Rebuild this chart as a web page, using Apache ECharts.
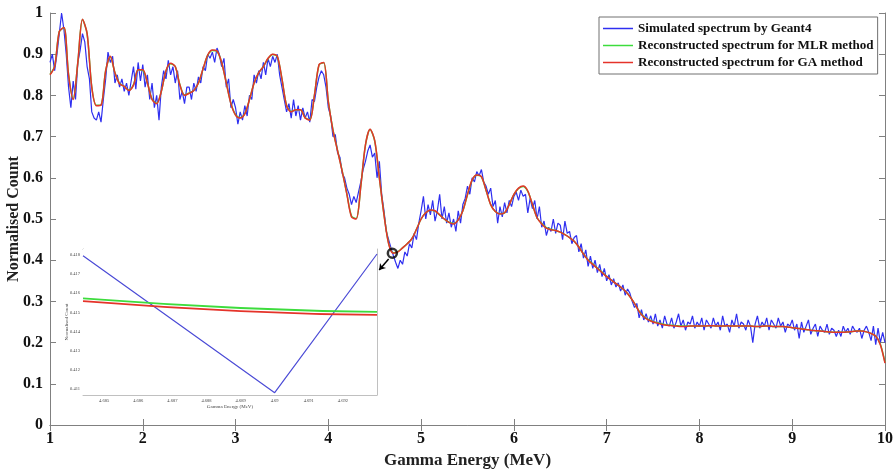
<!DOCTYPE html>
<html>
<head>
<meta charset="utf-8">
<title>Gamma spectrum reconstruction</title>
<script src="https://cdn.jsdelivr.net/npm/echarts@6/dist/echarts.min.js"></script>
<style>
  html, body { margin: 0; padding: 0; background: #fff; }
  #chart { width: 895px; height: 470px; }
</style>
</head>
<body>
<div id="chart"></div>
<script>
// simulated spectrum, sampled every 0.025 MeV from 1 MeV
const simStart = 1
const simStep = 0.025
const simCounts = [
  .880, .900, .860, .900, .950, 1.000, .960, .900, .820, .770, .835, .790, .880, .910, .950, .930, .870, .840, .760, .745,
  .740, .760, .735, .790, .840, .905, .880, .895, .830, .850, .820, .840, .810, .830, .800, .835, .870, .815, .880, .835,
  .875, .820, .850, .790, .830, .770, .800, .740, .820, .860, .840, .885, .850, .870, .830, .860, .790, .810, .780, .820,
  .820, .790, .830, .810, .845, .830, .870, .860, .900, .890, .905, .880, .915, .900, .870, .890, .820, .840, .770, .790,
  .770, .730, .760, .740, .775, .750, .800, .790, .850, .830, .860, .840, .880, .850, .890, .870, .895, .880, .900, .850,
  .820, .790, .760, .780, .745, .790, .750, .775, .740, .770, .745, .760, .735, .790, .785, .820, .845, .860, .850, .820,
  .770, .750, .700, .705, .660, .650, .610, .600, .575, .560, .535, .555, .540, .565, .590, .620, .640, .665, .680, .650,
  .660, .600, .640, .560, .520, .470, .450, .430, .412, .395, .380, .400, .390, .420, .410, .440, .430, .465, .450, .490,
  .520, .555, .500, .535, .510, .545, .495, .520, .560, .500, .530, .490, .515, .480, .500, .470, .520, .490, .535, .550,
  .580, .560, .600, .590, .615, .605, .620, .590, .580, .560, .575, .530, .545, .490, .530, .505, .540, .515, .545, .530,
  .555, .565, .545, .570, .555, .560, .515, .550, .525, .545, .500, .530, .480, .495, .460, .480, .470, .500, .465, .490,
  .485, .450, .495, .465, .470, .440, .455, .460, .420, .440, .405, .425, .385, .410, .380, .400, .370, .390, .360, .380,
  .350, .365, .340, .355, .335, .345, .325, .340, .315, .330, .320, .300, .285, .295, .260, .280, .255, .270, .250, .265,
  .245, .270, .240, .255, .235, .265, .245, .240, .260, .235, .250, .270, .240, .255, .230, .250, .245, .265, .235, .250,
  .240, .260, .230, .255, .245, .235, .260, .240, .250, .230, .265, .240, .245, .225, .255, .240, .270, .235, .250, .245,
  .230, .255, .240, .200, .245, .265, .235, .250, .240, .260, .230, .255, .245, .235, .260, .240, .250, .225, .245, .240,
  .255, .230, .245, .210, .250, .225, .240, .255, .220, .235, .245, .215, .240, .230, .225, .245, .220, .235, .230, .215,
  .230, .215, .240, .225, .235, .220, .240, .230, .225, .235, .210, .230, .240, .225, .205, .240, .195, .235, .200, .225,
  .200
]

// reconstructed spectra, sampled every 0.05 MeV from 1 MeV
const fitStart = 1
const fitStep = 0.05
const gaFit = [
  .850, .870, .955, .965, .850, .790, .880, .985, .950, .820, .775, .776, .860, .895, .855, .828, .822, .812, .825, .862,
  .862, .830, .790, .780, .810, .860, .878, .870, .825, .800, .805, .812, .830, .865, .898, .910, .908, .880, .830, .780,
  .752, .745, .755, .790, .830, .855, .870, .890, .900, .895, .840, .775, .760, .765, .765, .745, .740, .800, .875, .880,
  .785, .715, .665, .615, .560, .505, .500, .580, .680, .718, .690, .600, .510, .440, .417, .420, .430, .440, .452, .475,
  .500, .515, .522, .520, .510, .500, .492, .488, .498, .520, .560, .595, .607, .603, .570, .535, .518, .512, .515, .535,
  .560, .575, .580, .568, .535, .503, .488, .478, .474, .472, .468, .462, .455, .446, .432, .415, .400, .390, .380, .370,
  .360, .352, .343, .335, .325, .312, .295, .275, .262, .255, .250, .247, .244, .242, .241, .240, .239, .239, .240, .240,
  .240, .240, .241, .241, .240, .240, .241, .240, .240, .240, .240, .240, .239, .239, .240, .240, .239, .239, .239, .238,
  .236, .235, .233, .232, .230, .229, .228, .227, .226, .225, .225, .225, .226, .227, .228, .228, .226, .222, .216, .195,
  .150
]
const mlrFit = [
  .851, .871, .955, .964, .851, .791, .880, .984, .950, .821, .776, .777, .860, .894, .855, .829, .822, .813, .826, .862,
  .861, .830, .791, .781, .810, .859, .877, .870, .826, .801, .806, .812, .830, .864, .897, .909, .907, .880, .831, .781,
  .753, .746, .756, .790, .830, .855, .870, .889, .899, .894, .840, .776, .761, .765, .765, .746, .741, .800, .874, .879,
  .785, .716, .666, .616, .561, .507, .501, .580, .679, .717, .689, .600, .511, .441, .418, .421, .430, .440, .452, .475,
  .500, .515, .521, .519, .510, .500, .492, .489, .498, .520, .559, .594, .606, .602, .570, .535, .518, .513, .515, .535,
  .559, .574, .579, .567, .535, .503, .489, .479, .475, .472, .468, .462, .455, .446, .432, .415, .401, .391, .381, .371,
  .361, .352, .343, .335, .325, .312, .295, .276, .263, .256, .251, .248, .245, .243, .242, .241, .240, .240, .240, .240,
  .240, .240, .241, .241, .240, .240, .241, .240, .240, .240, .240, .240, .239, .239, .240, .240, .239, .239, .239, .238,
  .236, .235, .233, .232, .230, .229, .228, .227, .226, .225, .225, .225, .226, .227, .228, .228, .226, .222, .216, .196,
  .152
]

// zoomed window around 4.69 MeV
const insetSimEnergy = [4.68438, 4.6900, 4.6930]
const insetSim = [0.41796, 0.41081, 0.41805]
const insetFitEnergy = [4.68438, 4.6890, 4.6930]
const insetMlr = [0.41573, 0.41523, 0.41503]
const insetGa = [0.41559, 0.41507, 0.41487]
const insetEnergyTicks = [4.685, 4.686, 4.687, 4.688, 4.689, 4.690, 4.691, 4.692]
const insetCountTicks = [0.411, 0.412, 0.413, 0.414, 0.415, 0.416, 0.417, 0.418]

// zoom marker and arrow towards the inset
const zoomPoint = [4.69, 0.417]
const arrowFrom = [4.65, 0.403]
const arrowTo = [4.548, 0.376]

const pairs = (start, step, values) => values.map((v, i) => [+(start + i * step).toFixed(3), v])
const zip = (xs, ys) => xs.map((x, i) => [x, ys[i]])

const BLUE = '#2f2ff0'
const GREEN = '#3ddc3d'
const RED = '#e5332a'
const FONT = 'Liberation Serif'
const AXIS = '#808080'

const chart = echarts.init(document.getElementById('chart'))

const frameAxis = {
  axisLine: { lineStyle: { color: AXIS } },
  axisTick: { inside: true, length: 6, lineStyle: { color: AXIS } },
  splitLine: { show: false }
}
const insetAxis = {
  axisLine: { lineStyle: { color: '#c0c0c0' } },
  axisTick: { inside: true, length: 3, lineStyle: { color: '#b0b0b0' } },
  splitLine: { show: false }
}

const option = {
  backgroundColor: '#fff',
  animation: false,
  grid: [
    { left: 50, right: 10, top: 13, bottom: 45, containLabel: false, outerBoundsMode: 'none' },
    {
      left: 83, top: 249, width: 294, height: 146, containLabel: false, outerBoundsMode: 'none',
      show: true, backgroundColor: '#fff', borderWidth: 0, z: 5
    }
  ],
  legend: {
    data: ['Simulated spectrum by Geant4', 'Reconstructed spectrum for MLR method', 'Reconstructed spectrum for GA method'],
    orient: 'vertical',
    left: 599,
    top: 17,
    padding: [5, 4, 5, 4],
    icon: 'rect',
    itemWidth: 30,
    itemHeight: 1.5,
    itemGap: 4,
    backgroundColor: '#fff',
    borderColor: '#707070',
    borderWidth: 1,
    textStyle: { fontFamily: FONT, fontWeight: 'bold', fontSize: 13.1, lineHeight: 13, color: '#111' }
  },
  xAxis: [
    {
      ...frameAxis, gridIndex: 0, type: 'value', min: 1, max: 10, interval: 1,
      name: 'Gamma Energy (MeV)', nameLocation: 'middle', nameGap: 24,
      nameTextStyle: { fontFamily: FONT, fontWeight: 'bold', fontSize: 17, color: '#222' },
      axisLabel: { margin: 6, fontFamily: FONT, fontWeight: 'bold', fontSize: 16, color: '#111' }
    },
    {
      ...frameAxis, gridIndex: 0, type: 'value', position: 'top', min: 1, max: 10, interval: 1,
      axisLabel: { show: false }
    },
    {
      ...insetAxis, gridIndex: 1, type: 'value', min: 4.68438, max: 4.6930,
      name: 'Gamma Energy (MeV)', nameLocation: 'middle', nameGap: 8,
      nameTextStyle: { fontFamily: FONT, fontSize: 5, color: '#444' },
      axisTick: { ...insetAxis.axisTick, customValues: insetEnergyTicks },
      axisLabel: { customValues: insetEnergyTicks, margin: 3, fontFamily: FONT, fontSize: 4.5, color: '#444' }
    },
    {
      ...insetAxis, gridIndex: 1, type: 'value', position: 'top', min: 4.68438, max: 4.6930,
      axisTick: { ...insetAxis.axisTick, customValues: insetEnergyTicks },
      axisLabel: { show: false }
    }
  ],
  yAxis: [
    {
      ...frameAxis, gridIndex: 0, type: 'value', min: 0, max: 1, interval: 0.1,
      name: 'Normalised Count', nameLocation: 'middle', nameGap: 28, nameMoveOverlap: false,
      nameTextStyle: { fontFamily: FONT, fontWeight: 'bold', fontSize: 16, color: '#222' },
      axisLabel: { margin: 7, fontFamily: FONT, fontWeight: 'bold', fontSize: 16, color: '#111' }
    },
    {
      ...frameAxis, gridIndex: 0, type: 'value', position: 'right', min: 0, max: 1, interval: 0.1,
      axisLabel: { show: false }
    },
    {
      ...insetAxis, gridIndex: 1, type: 'value', min: 0.41069, max: 0.41831,
      name: 'Normalised Count', nameLocation: 'middle', nameGap: 14, nameMoveOverlap: false,
      nameTextStyle: { fontFamily: FONT, fontSize: 5, color: '#444' },
      axisTick: { ...insetAxis.axisTick, customValues: insetCountTicks },
      axisLabel: { customValues: insetCountTicks, margin: 3, fontFamily: FONT, fontSize: 4.5, color: '#444' }
    },
    {
      ...insetAxis, gridIndex: 1, type: 'value', position: 'right', min: 0.41069, max: 0.41831,
      axisTick: { ...insetAxis.axisTick, customValues: insetCountTicks },
      axisLabel: { show: false }
    }
  ],
  series: [
    {
      name: 'Simulated spectrum by Geant4', type: 'line', xAxisIndex: 0, yAxisIndex: 0,
      data: pairs(simStart, simStep, simCounts), symbol: 'none', z: 2,
      lineStyle: { color: BLUE, width: 1.2 }, itemStyle: { color: BLUE }
    },
    {
      name: 'Reconstructed spectrum for MLR method', type: 'line', xAxisIndex: 0, yAxisIndex: 0,
      data: pairs(fitStart, fitStep, mlrFit), symbol: 'none', smooth: 0.3, z: 3,
      lineStyle: { color: GREEN, width: 1.5 }, itemStyle: { color: GREEN }
    },
    {
      name: 'Reconstructed spectrum for GA method', type: 'line', xAxisIndex: 0, yAxisIndex: 0,
      data: pairs(fitStart, fitStep, gaFit), symbol: 'none', smooth: 0.3, z: 4,
      lineStyle: { color: RED, width: 1.5 }, itemStyle: { color: RED }
    },
    {
      name: 'zoom', type: 'scatter', xAxisIndex: 0, yAxisIndex: 0, z: 6,
      data: [zoomPoint], symbol: 'circle', symbolSize: 9,
      itemStyle: { color: 'rgba(255,255,255,0)', borderColor: '#000', borderWidth: 2.5 },
      markLine: {
        silent: true, symbol: ['none', 'arrow'], symbolSize: 6, label: { show: false },
        lineStyle: { color: '#000', width: 1.5, type: 'solid' },
        data: [[{ coord: arrowFrom }, { coord: arrowTo }]]
      }
    },
    {
      name: 'Simulated spectrum by Geant4', type: 'line', xAxisIndex: 2, yAxisIndex: 2, z: 7,
      data: zip(insetSimEnergy, insetSim), symbol: 'none',
      lineStyle: { color: '#4b4bd6', width: 1.2 }, itemStyle: { color: BLUE }
    },
    {
      name: 'Reconstructed spectrum for MLR method', type: 'line', xAxisIndex: 2, yAxisIndex: 2, z: 7,
      data: zip(insetFitEnergy, insetMlr), symbol: 'none', smooth: true,
      lineStyle: { color: GREEN, width: 1.8 }, itemStyle: { color: GREEN }
    },
    {
      name: 'Reconstructed spectrum for GA method', type: 'line', xAxisIndex: 2, yAxisIndex: 2, z: 8,
      data: zip(insetFitEnergy, insetGa), symbol: 'none', smooth: true,
      lineStyle: { color: RED, width: 1.8 }, itemStyle: { color: RED }
    }
  ]
}

chart.setOption(option)
</script>
</body>
</html>
